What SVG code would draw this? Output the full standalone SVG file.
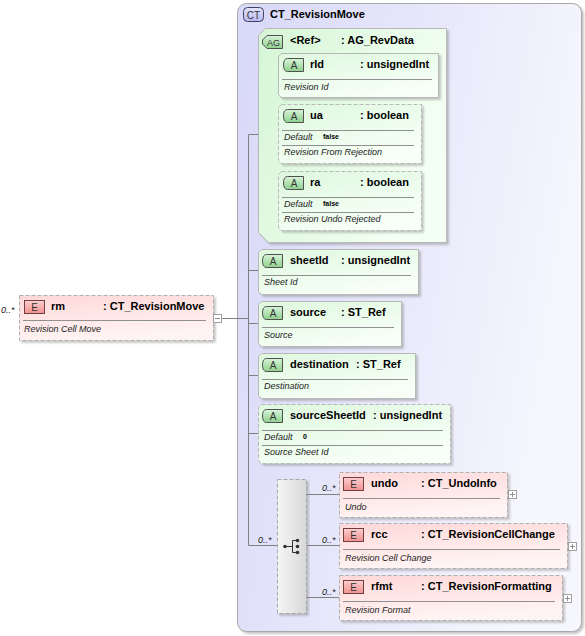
<svg xmlns="http://www.w3.org/2000/svg" xmlns:xlink="http://www.w3.org/1999/xlink" width="585" height="636" viewBox="0 0 585 636">
<defs>
<linearGradient id="gCT" x1="0" y1="0" x2="1" y2="0.3"><stop offset="0" stop-color="#d8d8f8"/><stop offset="1" stop-color="#f6f6fe"/></linearGradient>
<linearGradient id="gAG" x1="0" y1="0" x2="1" y2="0.4"><stop offset="0" stop-color="#d6f6d6"/><stop offset="1" stop-color="#f4fff4"/></linearGradient>
<linearGradient id="gAttr" x1="0" y1="0" x2="0.6" y2="1"><stop offset="0" stop-color="#def8de"/><stop offset="1" stop-color="#f8fff8"/></linearGradient>
<linearGradient id="gEl" x1="0" y1="0" x2="0.3" y2="1"><stop offset="0" stop-color="#ffd8d8"/><stop offset="1" stop-color="#fff4f4"/></linearGradient>
<linearGradient id="gChoice" x1="0" y1="0" x2="1" y2="0"><stop offset="0" stop-color="#f6f6f6"/><stop offset="1" stop-color="#d8d8d8"/></linearGradient>
<linearGradient id="gEIcon" x1="0" y1="0" x2="0" y2="1"><stop offset="0" stop-color="#fcd0d0"/><stop offset="1" stop-color="#f09090"/></linearGradient>
<linearGradient id="gAIcon" x1="0" y1="0" x2="0" y2="1"><stop offset="0" stop-color="#d8f4d8"/><stop offset="1" stop-color="#8ed08e"/></linearGradient>
<linearGradient id="gCTIcon" x1="0" y1="0" x2="0" y2="1"><stop offset="0" stop-color="#e4e4fc"/><stop offset="1" stop-color="#b8b8f0"/></linearGradient>
<filter id="sh" x="-5%" y="-5%" width="115%" height="120%"><feDropShadow dx="2" dy="2" stdDeviation="1" flood-color="#808080" flood-opacity="0.45"/></filter>
<path id="aIcon" d="M4.5,0.5 H20.5 V13.5 H4.5 Q0.5,13.5 0.5,7 Q0.5,0.5 4.5,0.5 Z" fill="url(#gAIcon)" stroke="#505050"/>
<rect id="eIcon" x="0.5" y="0.5" width="20" height="13" fill="url(#gEIcon)" stroke="#704040"/>
</defs>
<style>
text{font-family:"Liberation Sans",Arial,sans-serif;fill:#000}
.t{font-size:11px;font-weight:bold}
.d{font-size:9px;font-style:italic;fill:#222}
.o{font-size:9px;font-style:italic;fill:#222}
.dv{font-size:7px;font-weight:bold}
.ic{font-size:10px;fill:#333;text-anchor:middle}
.attr{fill:url(#gAttr);stroke:#b8b8b8;stroke-width:1}
.el{fill:url(#gEl);stroke:#b0b0b0;stroke-width:1}
.dash{stroke-dasharray:4,2}
.sep{stroke:#909090;stroke-width:1}
.conn{stroke:#808080;stroke-width:1;fill:none}
.btn{fill:#fff;stroke:#a0a0a0;stroke-width:1}
.bl{stroke:#909090;stroke-width:1}
</style>

<g id="ct-RevisionMove">
<rect x="237.5" y="3.5" width="344" height="628" rx="9" fill="url(#gCT)" stroke="#a8a8a8" filter="url(#sh)"/>
<rect x="243.5" y="7.5" width="20" height="14" rx="4" fill="url(#gCTIcon)" stroke="#404060"/>
<text class="ic" x="253.5" y="18.5">CT</text>
<text class="t" x="270" y="18">CT_RevisionMove</text>
</g>

<g id="connectors">
<path class="conn" d="M222,318.5 H248.5 M248.5,134.5 V545.5 M248.5,134.5 H278 M269.5,75.5 V201.5 M269.5,75.5 H278 M269.5,201.5 H278 M248.5,270.5 H258 M248.5,323.5 H258 M248.5,375.5 H258 M248.5,433.5 H258 M248.5,545.5 H277 M306.5,494.5 H339 M306.5,545.5 H339 M306.5,597.5 H339"/>
</g>

<g id="rm">
<rect class="el dash" x="19.5" y="295.5" width="194" height="45" filter="url(#sh)"/>
<use xlink:href="#eIcon" x="24" y="300"/>
<text class="ic" x="34.5" y="311">E</text>
<text class="t" x="51" y="310">rm</text>
<text class="t" x="103" y="310">: CT_RevisionMove</text>
<line class="sep" x1="23" y1="320.5" x2="206" y2="320.5"/>
<text class="d" x="24" y="332">Revision Cell Move</text>
<text class="o" x="1" y="313">0..*</text>
<rect class="btn" x="213.5" y="314.5" width="8" height="8"/>
<line class="bl" x1="215" y1="318.5" x2="220" y2="318.5"/>
</g>

<g id="ag-RevData">
<polygon points="265.5,28.5 446.5,28.5 446.5,242.5 268.5,242.5 258.5,232.5 258.5,35.5" fill="url(#gAG)" stroke="#b8b8b8" filter="url(#sh)"/>
<path d="M267,35.5 H282.5 V48.5 H267 L262.5,44 V40 Z" fill="url(#gAIcon)" stroke="#505050"/>
<text class="ic" x="273.5" y="45.5" style="font-size:9px">AG</text>
<text class="t" x="290" y="44">&lt;Ref&gt;</text>
<text class="t" x="341" y="44">: AG_RevData</text>
</g>

<g id="attr-rId">
<path class="attr" d="M281.5,53.5 H438.5 V97.5 H281.5 L278.5,94.5 V56.5 Z" filter="url(#sh)"/>
<use xlink:href="#aIcon" x="283" y="58"/>
<text class="ic" x="294" y="69">A</text>
<text class="t" x="310" y="68">rId</text>
<text class="t" x="360" y="68">: unsignedInt</text>
<line class="sep" x1="282" y1="79.5" x2="432" y2="79.5"/>
<text class="d" x="284" y="90">Revision Id</text>
</g>

<g id="attr-ua">
<path class="attr dash" d="M281.5,104.5 H421.5 V163.5 H281.5 L278.5,160.5 V107.5 Z" filter="url(#sh)"/>
<use xlink:href="#aIcon" x="283" y="109"/>
<text class="ic" x="294" y="120">A</text>
<text class="t" x="310" y="119">ua</text>
<text class="t" x="360" y="119">: boolean</text>
<line class="sep" x1="282" y1="130.5" x2="414" y2="130.5"/>
<text class="d" x="284" y="140">Default</text>
<text class="dv" x="323" y="139">false</text>
<line class="sep" x1="282" y1="145.5" x2="414" y2="145.5"/>
<text class="d" x="284" y="155">Revision From Rejection</text>
</g>

<g id="attr-ra">
<path class="attr dash" d="M281.5,171.5 H421.5 V230.5 H281.5 L278.5,227.5 V174.5 Z" filter="url(#sh)"/>
<use xlink:href="#aIcon" x="283" y="176"/>
<text class="ic" x="294" y="187">A</text>
<text class="t" x="310" y="186">ra</text>
<text class="t" x="360" y="186">: boolean</text>
<line class="sep" x1="282" y1="197.5" x2="414" y2="197.5"/>
<text class="d" x="284" y="207">Default</text>
<text class="dv" x="323" y="206">false</text>
<line class="sep" x1="282" y1="212.5" x2="414" y2="212.5"/>
<text class="d" x="284" y="222">Revision Undo Rejected</text>
</g>

<g id="attr-sheetId">
<path class="attr" d="M261.5,249.5 H418.5 V294.5 H261.5 L258.5,291.5 V252.5 Z" filter="url(#sh)"/>
<use xlink:href="#aIcon" x="262" y="254"/>
<text class="ic" x="273" y="265">A</text>
<text class="t" x="290" y="264">sheetId</text>
<text class="t" x="341" y="264">: unsignedInt</text>
<line class="sep" x1="262" y1="275.5" x2="411" y2="275.5"/>
<text class="d" x="264" y="285">Sheet Id</text>
</g>

<g id="attr-source">
<path class="attr" d="M261.5,301.5 H401.5 V346.5 H261.5 L258.5,343.5 V304.5 Z" filter="url(#sh)"/>
<use xlink:href="#aIcon" x="262" y="306"/>
<text class="ic" x="273" y="317">A</text>
<text class="t" x="290" y="316">source</text>
<text class="t" x="341" y="316">: ST_Ref</text>
<line class="sep" x1="262" y1="327.5" x2="394" y2="327.5"/>
<text class="d" x="264" y="338">Source</text>
</g>

<g id="attr-destination">
<path class="attr" d="M261.5,353.5 H415.5 V398.5 H261.5 L258.5,395.5 V356.5 Z" filter="url(#sh)"/>
<use xlink:href="#aIcon" x="262" y="358"/>
<text class="ic" x="273" y="369">A</text>
<text class="t" x="290" y="368">destination</text>
<text class="t" x="356" y="368">: ST_Ref</text>
<line class="sep" x1="262" y1="379.5" x2="408" y2="379.5"/>
<text class="d" x="264" y="389">Destination</text>
</g>

<g id="attr-sourceSheetId">
<path class="attr dash" d="M261.5,404.5 H450.5 V463.5 H261.5 L258.5,460.5 V407.5 Z" filter="url(#sh)"/>
<use xlink:href="#aIcon" x="262" y="409"/>
<text class="ic" x="273" y="420">A</text>
<text class="t" x="290" y="419">sourceSheetId</text>
<text class="t" x="373" y="419">: unsignedInt</text>
<line class="sep" x1="262" y1="430.5" x2="443" y2="430.5"/>
<text class="d" x="264" y="440">Default</text>
<text class="dv" x="303" y="439">0</text>
<line class="sep" x1="262" y1="445.5" x2="443" y2="445.5"/>
<text class="d" x="264" y="455">Source Sheet Id</text>
</g>

<g id="choice">
<rect x="277.5" y="479.5" width="29" height="134" fill="url(#gChoice)" stroke="#a8a8a8" class="dash" filter="url(#sh)"/>
<path d="M285,546.5 H292.5 M292.5,540.5 V552.5 M292.5,540.5 H297 M292.5,552.5 H297" stroke="#303030" stroke-width="1" fill="none"/>
<circle cx="285" cy="546.5" r="1.8" fill="#303030"/>
<circle cx="297.5" cy="540.5" r="1.8" fill="#303030"/>
<circle cx="297.5" cy="546.5" r="1.8" fill="#303030"/>
<circle cx="297.5" cy="552.5" r="1.8" fill="#303030"/>
<text class="o" x="258" y="543">0..*</text>
</g>

<g id="undo">
<rect class="el dash" x="339.5" y="472.5" width="168" height="45" filter="url(#sh)"/>
<use xlink:href="#eIcon" x="343" y="477"/>
<text class="ic" x="353.5" y="488">E</text>
<text class="t" x="371" y="487">undo</text>
<text class="t" x="421" y="487">: CT_UndoInfo</text>
<line class="sep" x1="343" y1="498.5" x2="500" y2="498.5"/>
<text class="d" x="345" y="510">Undo</text>
<text class="o" x="322" y="491">0..*</text>
<rect class="btn" x="508.5" y="490.5" width="8" height="8"/>
<path class="bl" d="M510,494.5 H515 M512.5,492 V497"/>
</g>

<g id="rcc">
<rect class="el dash" x="339.5" y="523.5" width="228" height="45" filter="url(#sh)"/>
<use xlink:href="#eIcon" x="343" y="528"/>
<text class="ic" x="353.5" y="539">E</text>
<text class="t" x="371" y="538">rcc</text>
<text class="t" x="421" y="538">: CT_RevisionCellChange</text>
<line class="sep" x1="343" y1="549.5" x2="560" y2="549.5"/>
<text class="d" x="345" y="561">Revision Cell Change</text>
<text class="o" x="322" y="543">0..*</text>
<rect class="btn" x="568.5" y="542.5" width="8" height="8"/>
<path class="bl" d="M570,546.5 H575 M572.5,544 V549"/>
</g>

<g id="rfmt">
<rect class="el dash" x="339.5" y="575.5" width="223" height="45" filter="url(#sh)"/>
<use xlink:href="#eIcon" x="343" y="580"/>
<text class="ic" x="353.5" y="591">E</text>
<text class="t" x="371" y="590">rfmt</text>
<text class="t" x="421" y="590">: CT_RevisionFormatting</text>
<line class="sep" x1="343" y1="601.5" x2="555" y2="601.5"/>
<text class="d" x="345" y="613">Revision Format</text>
<text class="o" x="322" y="595">0..*</text>
<rect class="btn" x="563.5" y="594.5" width="8" height="8"/>
<path class="bl" d="M565,598.5 H570 M567.5,596 V601"/>
</g>
</svg>
